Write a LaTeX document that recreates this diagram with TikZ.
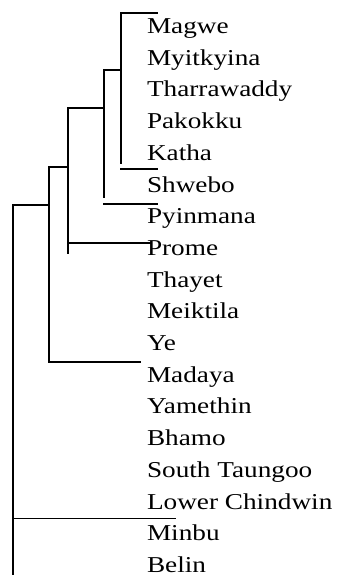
\documentclass[tikz,border=0pt]{standalone}
\usepackage{fontspec}
\setmainfont[FakeStretch=1.2]{Liberation Serif}
\begin{document}
\begin{tikzpicture}[x=1pt,y=-1pt,
  lbl/.style={anchor=base west,inner sep=0pt,outer sep=0pt,font=\fontsize{22.7}{22.7}\selectfont},
  br/.style={line width=1.7pt,line cap=rect}]
\useasboundingbox (0,0) rectangle (337,575);
% labels
\foreach \t [count=\i from 0] in {Magwe,Myitkyina,Tharrawaddy,Pakokku,Katha,Shwebo,Pyinmana,Prome,Thayet,Meiktila,Ye,Madaya,Yamethin,Bhamo,South Taungoo,Lower Chindwin,Minbu,Belin}
  \node[lbl] (l\i) at (147,{33.5+31.7*\i}) {\t};
% junction coordinates
\coordinate (a1) at (121,12.7);  \coordinate (a2) at (157,12.7);
\coordinate (a3) at (121,163);   \coordinate (a4) at (121,169); \coordinate (a5) at (157,169);
\coordinate (b1) at (104.3,70);  \coordinate (b2) at (104.3,197);
\coordinate (b3) at (104.3,204); \coordinate (b4) at (157,204);
\coordinate (c1) at (67.7,107.7); \coordinate (c2) at (67.7,253);
\coordinate (c3) at (67.7,243.3); \coordinate (c4) at (150,243.3);
\coordinate (d1) at (49.3,166.7); \coordinate (d2) at (49.3,362.3);
\coordinate (d3) at (140,362.3);
\coordinate (e1) at (13.3,205);  \coordinate (e2) at (13.3,575);
\coordinate (e3) at (13.3,518.5); \coordinate (e4) at (175,518.5);
% brackets
\draw[br] (a2) -- (a1) -- (a3);
\draw[br] (a4) -- (a5);
\draw[br] (b2) -- (b1) -- (b1 -| a1);
\draw[br] (b3) -- (b4);
\draw[br] (c2) -- (c1) -- (c1 -| b1);
\draw[br] (c3) -- (c4);
\draw[br] (d3) -- (d2) -- (d1) -- (d1 -| c1);
\draw[br] (e2) -- (e1) -- (e1 -| d1);
\draw[br] (e3) -- (e4);
\end{tikzpicture}
\end{document}
